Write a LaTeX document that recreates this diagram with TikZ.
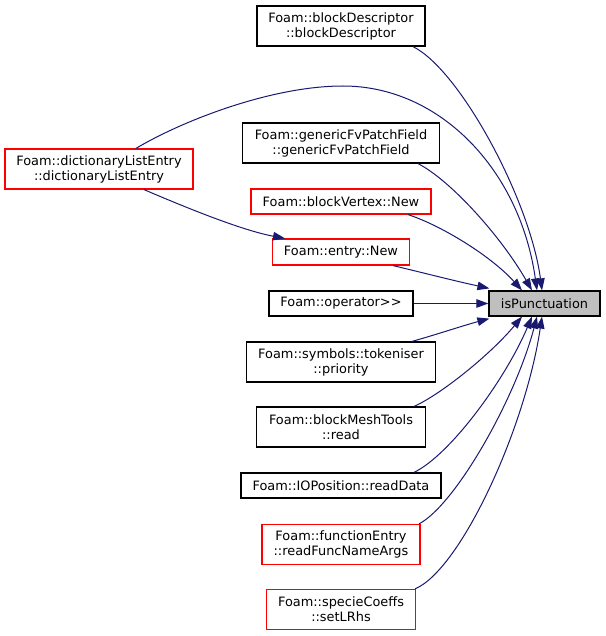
\documentclass[tikz,border=0pt]{standalone}
\usepackage{fontspec}
\setmainfont{DejaVu Sans}
\usetikzlibrary{arrows.meta}
\definecolor{edgeblue}{HTML}{191970}
\definecolor{nodegray}{HTML}{BFBFBF}
\begin{document}
\begin{tikzpicture}[x=1pt,y=-1pt,
  box/.style={draw=black, line width=1.2pt, inner sep=0pt, align=center,
    font=\fontsize{12.9}{15}\selectfont},
  redbox/.style={box, draw=red},
  curbox/.style={box, fill=nodegray},
  arr/.style={draw=edgeblue, line width=1pt, -{Triangle[length=12pt,width=8.5pt]}}]
\useasboundingbox (0,0) rectangle (605,636);
\node[box, minimum width=168pt, minimum height=40pt] (bd) at (341,26) {Foam::blockDescriptor\\::blockDescriptor};
\node[redbox, minimum width=188pt, minimum height=40pt] (dle) at (99,169) {Foam::dictionaryListEntry\\::dictionaryListEntry};
\node[box, minimum width=197pt, minimum height=40pt] (gfp) at (341,143) {Foam::genericFvPatchField\\::genericFvPatchField};
\node[redbox, minimum width=180pt, minimum height=25pt] (bvn) at (341,201.5) {Foam::blockVertex::New};
\node[redbox, minimum width=137pt, minimum height=26pt] (en) at (341,252) {Foam::entry::New};
\node[box, minimum width=144pt, minimum height=25pt] (op) at (341,303.5) {Foam::operator>{}>};
\node[curbox, minimum width=111pt, minimum height=25pt] (isp) at (544.5,303.5) {isPunctuation};
\node[box, minimum width=189pt, minimum height=40pt] (pri) at (341,362) {Foam::symbols::tokeniser\\::priority};
\node[box, minimum width=169pt, minimum height=40pt] (bmt) at (341,427) {Foam::blockMeshTools\\::read};
\node[box, minimum width=200pt, minimum height=25pt] (iop) at (341,485.5) {Foam::IOPosition::readData};
\node[redbox, minimum width=158pt, minimum height=40pt] (fe) at (341,544.5) {Foam::functionEntry\\::readFuncNameArgs};
\node[redbox, minimum width=149pt, minimum height=40pt] (sc) at (341,609.5) {Foam::specieCoeffs\\::setLRhs};

\draw[arr] ([xshift=72pt]bd.south) .. controls (460,70) and (530,200) .. ([xshift=-2.5pt]isp.north);
\draw[arr] ([xshift=37pt]dle.north) .. controls (180,122) and (270,86) .. (343,86) .. controls (440,86) and (520,170) .. ([xshift=-7.5pt]isp.north);
\draw[arr] ([xshift=77pt]gfp.south) .. controls (450,180) and (500,235) .. ([xshift=-12.5pt]isp.north);
\draw[arr] ([xshift=67pt]bvn.south) .. controls (440,225) and (490,255) .. ([xshift=-22.5pt]isp.north);
\draw[arr] ([xshift=52pt]en.south) .. controls (420,272) and (455,281) .. ([xshift=1pt,yshift=2pt]isp.north west);
\draw[arr] (op.east) -- (isp.west);
\draw[arr] ([xshift=71pt]pri.north) .. controls (435,335) and (465,325) .. ([xshift=1pt,yshift=-2pt]isp.south west);
\draw[arr] ([xshift=73pt]bmt.north) .. controls (440,395) and (490,355) .. ([xshift=-22.5pt]isp.south);
\draw[arr] ([xshift=73pt]iop.north) .. controls (450,455) and (505,380) .. ([xshift=-12.5pt]isp.south);
\draw[arr] ([xshift=78pt]fe.north) .. controls (455,505) and (515,400) .. ([xshift=-7.5pt]isp.south);
\draw[arr] ([xshift=74pt]sc.north) .. controls (460,570) and (525,430) .. ([xshift=-2.5pt]isp.south);
\draw[arr] ([xshift=45pt]dle.south) .. controls (180,205) and (240,230) .. ([xshift=-56pt]en.north);
\end{tikzpicture}
\end{document}
